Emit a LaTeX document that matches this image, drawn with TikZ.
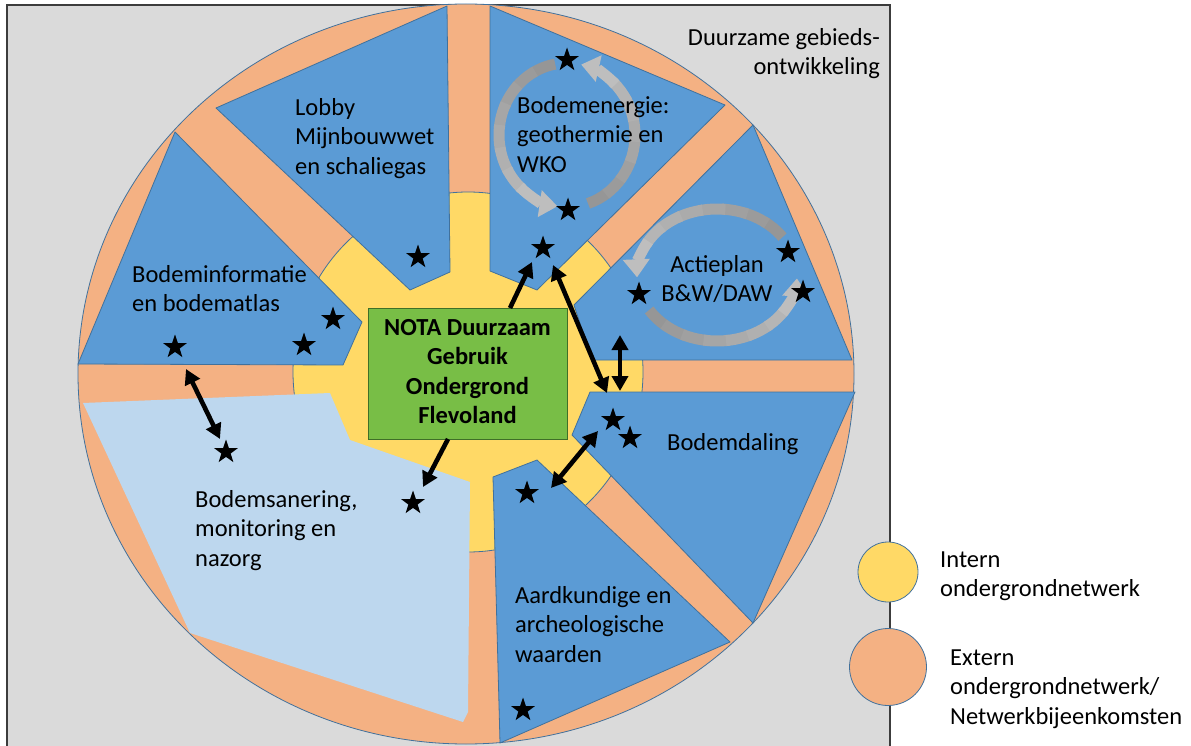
\documentclass[tikz,border=0pt]{standalone}
\usepackage{fontspec}
\setmainfont{Carlito}
\usetikzlibrary{shapes.geometric,arrows.meta,calc}
\definecolor{bgGray}{HTML}{DADADA}
\definecolor{frameLine}{HTML}{3C3C3C}
\definecolor{extOrange}{HTML}{F4B183}
\definecolor{intYellow}{HTML}{FFD966}
\definecolor{secBlue}{HTML}{5B9BD5}
\definecolor{secEdge}{HTML}{41719C}
\definecolor{lightBlue}{HTML}{BDD7EE}
\definecolor{notaGreen}{HTML}{78BE46}
\definecolor{notaEdge}{HTML}{3F6F27}
\definecolor{cycDark}{HTML}{969696}
\definecolor{cycLight}{HTML}{BEBEBE}
\newcommand{\lblfont}{\fontsize{24.5}{29.5}\selectfont}
\newcommand{\cycarrow}[6]{%
  \foreach \k in {0,...,6}{%
    \pgfmathsetmacro{\sa}{#5+(#6-#5)*\k/9}%
    \pgfmathsetmacro{\ea}{#5+(#6-#5)*(\k+1.15)/9}%
    \pgfmathsetmacro{\pc}{100-\k*13}%
    \draw[draw=cycDark!\pc!cycLight,line width=11pt] ($(#1,#2)+(\sa:#3 and #4)$) arc[start angle=\sa,end angle=\ea,x radius=#3,y radius=#4];
  }%
  \pgfmathsetmacro{\sa}{#5+(#6-#5)*7/9}%
  \draw[draw=cycLight,line width=11pt,-{Triangle[length=18pt,width=26pt]}] ($(#1,#2)+(\sa:#3 and #4)$) arc[start angle=\sa,end angle=#6,x radius=#3,y radius=#4];
}
\begin{document}
\begin{tikzpicture}[x=1pt,y=-1pt,font=\lblfont,
  sector/.style={fill=secBlue,draw=secEdge,line width=0.8pt,line join=round},
  lbl/.style={anchor=north west,inner sep=0pt,align=left,yshift=20.65pt},
  starmark/.style={star,star points=5,star point ratio=2.55,fill=black,draw=none,inner sep=0pt,minimum size=25pt},
  onearrow/.style={line width=4.6pt,-{Triangle[length=15pt,width=16pt]}},
  twoarrow/.style={line width=4.6pt,{Triangle[length=15pt,width=16pt]}-{Triangle[length=15pt,width=16pt]}},
  legend/.style={circle,draw=secEdge,line width=0.8pt,inner sep=0pt}]
\useasboundingbox (0,0) rectangle (1191,746);
% frame
\fill[white] (0,0) rectangle (1191,746);
\draw[fill=bgGray,draw=frameLine,line width=1.3pt] (7,5) rectangle (890,770);
% outer (extern) ellipse
\draw[fill=extOrange,draw=secEdge,line width=0.8pt] (466,374) ellipse [x radius=388,y radius=370];
% inner (intern) ellipse
\draw[fill=intYellow,draw=secEdge,line width=0.8pt] (468,372) ellipse [x radius=175,y radius=180];
% sectors
\draw[sector] (216,108) -- (447,6) -- (450,272) -- (410,290) -- cycle;
\draw[sector] (490,6) -- (725,105) -- (537,290) -- (490,271) -- cycle;
\draw[sector] (753,125) -- (852,360) -- (592,360) -- (574,305) -- cycle;
\draw[sector] (175,132) -- (362,322) -- (343,365) -- (78,364) -- cycle;
\draw[sector] (590,392) -- (855,392) -- (753,623) -- (572,435) -- cycle;
\draw[sector] (493,477) -- (537,460) -- (730,642) -- (500,743) -- cycle;
\fill[lightBlue] (83,403) -- (330,393) -- (350,440) -- (470,482) -- (468,712) -- (463,722) -- (190,633) -- cycle;
% central box
\node[fill=notaGreen,draw=notaEdge,line width=1pt,minimum width=199pt,minimum height=131pt,inner sep=0pt,align=center,font=\lblfont\bfseries]
  (nota) at (467.5,373.5) {\strut NOTA Duurzaam\\Gebruik\\Ondergrond\\Flevoland\strut};
% cycle arrows
\cycarrow{567}{135}{68}{72}{-100}{-262}
\cycarrow{567}{135}{68}{72}{72}{-78}
\cycarrow{717}{275}{80}{66}{-35}{-182}
\cycarrow{717}{275}{80}{66}{148}{3}
% stars
\node[starmark] (s1) at (567,60) {};
\node[starmark] (s2) at (568,210) {};
\node[starmark] (s3) at (543,248) {};
\node[starmark] (s4) at (418,257) {};
\node[starmark] (s5) at (333,319) {};
\node[starmark] (s6) at (304,345) {};
\node[starmark] (s7) at (175,347) {};
\node[starmark] (s8) at (788,252) {};
\node[starmark] (s9) at (803,292) {};
\node[starmark] (s10) at (639,294) {};
\node[starmark] (s11) at (613,420) {};
\node[starmark] (s12) at (630,438) {};
\node[starmark] (s13) at (527,493) {};
\node[starmark] (s14) at (523,710) {};
\node[starmark] (s15) at (226,452) {};
\node[starmark] (s16) at (413,503) {};
% arrows
\coordinate (a1s) at (510,308);
\coordinate (a1e) at (532,262);
\coordinate (a2s) at (553,265);
\coordinate (a2e) at (607,393);
\coordinate (a3s) at (620,335);
\coordinate (a3e) at (620,391);
\coordinate (a4s) at (598,431);
\coordinate (a4e) at (551,488);
\coordinate (a5s) at (448,439);
\coordinate (a5e) at (423,487);
\coordinate (a6s) at (186,369);
\coordinate (a6e) at (220,439);
\draw[onearrow] (a1s) -- (a1e);
\draw[twoarrow] (a2s) -- (a2e);
\draw[twoarrow] (a3s) -- (a3e);
\draw[twoarrow] (a4s) -- (a4e);
\draw[onearrow] (a5s) -- (a5e);
\draw[twoarrow] (a6s) -- (a6e);
% labels
\node[lbl] (lobbyTxt) at (295,115) {\strut Lobby\\Mijnbouwwet\\en schaliegas};
\node[lbl] (energieTxt) at (517,113) {\strut Bodemenergie:\\geothermie en\\WKO};
\node[lbl] (infoTxt) at (132,282) {\strut Bodeminformatie\\en bodematlas};
\node[lbl,anchor=north,align=center] (actieTxt) at (717,272) {\strut Actieplan\\B\&W/DAW};
\node[lbl] (dalingTxt) at (667,450) {\strut Bodemdaling};
\node[lbl] (aardTxt) at (515,603) {\strut Aardkundige en\\archeologische\\waarden};
\node[lbl] (sanTxt) at (195,507) {\strut Bodemsanering,\\monitoring en\\nazorg};
\node[lbl,anchor=north east,align=right] (gebiedTxt) at (880,45) {\strut Duurzame gebieds-\\ontwikkeling};
% legend
\node[legend,fill=intYellow,minimum size=60pt] (legInt) at (888,572) {};
\node[legend,fill=extOrange,minimum size=77pt] (legExt) at (888,667) {};
\node[lbl] (internTxt) at (940,567) {\strut Intern\\ondergrondnetwerk};
\node[lbl] (externTxt) at (950,665) {\strut Extern\\ondergrondnetwerk/\\Netwerkbijeenkomsten};
\end{tikzpicture}
\end{document}
